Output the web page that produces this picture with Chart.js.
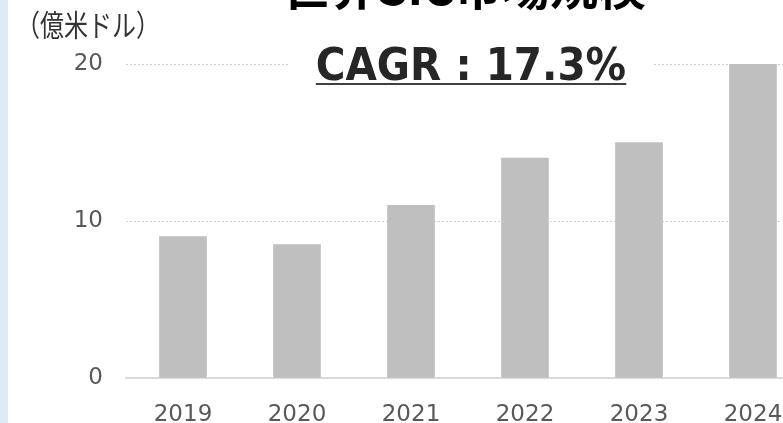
<!DOCTYPE html>
<html lang="ja">
<head>
<meta charset="utf-8">
<title>世界SiC市場規模</title>
<script src="https://cdn.jsdelivr.net/npm/chart.js@4"></script>
<style>
  html, body { margin: 0; padding: 0; background: #fff; overflow: hidden; }
  #wrap { position: relative; width: 783px; height: 423px; overflow: hidden; }
  #strip { position: absolute; left: 0; top: 0; width: 8px; height: 423px; background: #dde9f5; }
</style>
</head>
<body>
<div id="wrap">
  <canvas id="marketChart" width="830" height="423"></canvas>
  <div id="strip"></div>
</div>
<script>
const years = ['2019', '2020', '2021', '2022', '2023', '2024'];
const marketSize = [9, 8.5, 11, 14, 15, 20];   // 億米ドル
const yMin = 0;
const yMax = 20;
const yStep = 10;
const titleText = '世界SiC市場規模';
const cagrText = 'CAGR : 17.3%';
const unitText = '（億米ドル）';

const tickFont = { family: "'DejaVu Sans', Verdana, sans-serif", size: 23 };

// draws text squeezed horizontally around a centre / left point
function squeezed(c, text, x, y, sx) {
  c.save();
  c.translate(x, y);
  c.scale(sx, 1);
  c.fillText(text, 0, 0);
  c.restore();
}

// texts drawn on top of the chart (title is cut off by the top edge like in the source)
const overlayText = {
  id: 'overlayText',
  afterDraw(chart) {
    const c = chart.ctx;
    c.save();
    c.textBaseline = 'alphabetic';

    // title
    c.fillStyle = '#000';
    c.font = "700 48px 'Noto Sans CJK JP', sans-serif";
    c.textAlign = 'center';
    c.fillText(titleText, 464, 5);

    // white box behind CAGR hides the gridline
    c.fillStyle = '#fff';
    c.fillRect(288, 50, 366, 30);

    c.fillStyle = '#262626';
    c.font = "bold 45px 'DejaVu Sans', Verdana, sans-serif";
    const sx = 0.9;
    squeezed(c, cagrText, 471, 80, sx);
    const w = c.measureText(cagrText).width * sx;
    c.fillStyle = '#404040';
    c.fillRect(471 - w / 2, 83, w, 2);

    // unit label
    c.fillStyle = '#333';
    c.font = "30px 'Noto Sans CJK JP', sans-serif";
    c.textAlign = 'left';
    squeezed(c, unitText, 16, 36, 0.8);

    c.restore();
  }
};

new Chart(document.getElementById('marketChart'), {
  type: 'bar',
  data: {
    labels: years,
    datasets: [{
      data: marketSize,
      backgroundColor: '#bfbfbf',
      barThickness: 47
    }]
  },
  options: {
    responsive: false,
    animation: false,
    devicePixelRatio: 1,
    layout: { padding: { top: 64, right: 20, bottom: 0, left: 0 } },
    plugins: {
      legend: { display: false },
      tooltip: { enabled: false }
    },
    scales: {
      x: {
        grid: { display: false },
        border: { display: true, color: '#d9d9d9', width: 2 },
        ticks: { color: '#595959', font: tickFont, padding: 15, maxRotation: 0 },
        afterFit(scale) { scale.height = 45; }
      },
      y: {
        min: yMin,
        max: yMax,
        ticks: { stepSize: yStep, color: '#595959', font: tickFont, padding: 23 },
        grid: {
          drawTicks: false,
          color: ctx => ctx.tick && ctx.tick.value === 0 ? 'rgba(0,0,0,0)' : '#cfcfcf',
          lineWidth: 1
        },
        border: { display: false, dash: [2, 2] },
        afterFit(scale) { scale.width = 126; }
      }
    }
  },
  plugins: [overlayText]
});
</script>
</body>
</html>
